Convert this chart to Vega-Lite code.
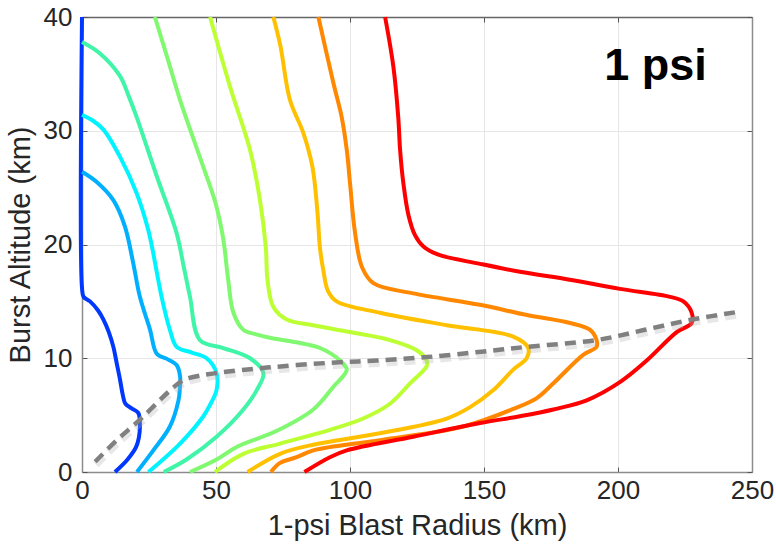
{
  "$schema": "https://vega.github.io/schema/vega-lite/v6.json",
  "width": 670,
  "height": 455,
  "autosize": {"type": "none"},
  "padding": {"left": 82, "top": 17, "right": 24, "bottom": 78},
  "background": "white",
  "config": {
    "font": "Liberation Sans",
    "view": {"stroke": null},
    "axis": {
      "labelFont": "Liberation Sans",
      "titleFont": "Liberation Sans",
      "labelColor": "#262626",
      "titleColor": "#262626",
      "labelFontSize": 26,
      "titleFontSize": 29,
      "titleFontWeight": "normal",
      "labelFlush": false,
      "domainColor": "#8c8c8c",
      "domainWidth": 1.5,
      "tickColor": "#555555",
      "tickSize": -5,
      "gridColor": "#e6e6e6",
      "gridWidth": 1
    }
  },
  "datasets": {
    "curves": [
      {"s": "c1", "i": 0, "x": 0, "y": 40},
      {"s": "c1", "i": 1, "x": 0, "y": 16.2},
      {"s": "c1", "i": 2, "x": 0.6, "y": 15.4},
      {"s": "c1", "i": 3, "x": 3, "y": 15.0},
      {"s": "c1", "i": 4, "x": 6, "y": 14.2},
      {"s": "c1", "i": 5, "x": 8, "y": 13.4},
      {"s": "c1", "i": 6, "x": 10, "y": 12.3},
      {"s": "c1", "i": 7, "x": 11.7, "y": 11.0},
      {"s": "c1", "i": 8, "x": 13, "y": 9.5},
      {"s": "c1", "i": 9, "x": 14.2, "y": 8.1},
      {"s": "c1", "i": 10, "x": 15.2, "y": 6.8},
      {"s": "c1", "i": 11, "x": 16.2, "y": 6.0},
      {"s": "c1", "i": 12, "x": 18.5, "y": 5.6},
      {"s": "c1", "i": 13, "x": 21.0, "y": 5.2},
      {"s": "c1", "i": 14, "x": 21.6, "y": 4.0},
      {"s": "c1", "i": 15, "x": 21.2, "y": 3.0},
      {"s": "c1", "i": 16, "x": 20.2, "y": 2.2},
      {"s": "c1", "i": 17, "x": 17, "y": 1.1},
      {"s": "c1", "i": 18, "x": 12.3, "y": 0},

      {"s": "c2", "i": 0, "x": 0, "y": 26.4},
      {"s": "c2", "i": 1, "x": 5.5, "y": 25.5},
      {"s": "c2", "i": 2, "x": 11.7, "y": 23.9},
      {"s": "c2", "i": 3, "x": 16, "y": 21.6},
      {"s": "c2", "i": 4, "x": 19, "y": 18.5},
      {"s": "c2", "i": 5, "x": 21.6, "y": 15.4},
      {"s": "c2", "i": 6, "x": 25.4, "y": 12.5},
      {"s": "c2", "i": 7, "x": 27.9, "y": 10.4},
      {"s": "c2", "i": 8, "x": 32, "y": 9.9},
      {"s": "c2", "i": 9, "x": 35.3, "y": 9.4},
      {"s": "c2", "i": 10, "x": 36.6, "y": 8.4},
      {"s": "c2", "i": 11, "x": 36.5, "y": 7.3},
      {"s": "c2", "i": 12, "x": 36, "y": 6.3},
      {"s": "c2", "i": 13, "x": 32.8, "y": 4.0},
      {"s": "c2", "i": 14, "x": 26.6, "y": 1.9},
      {"s": "c2", "i": 15, "x": 20.5, "y": 0},

      {"s": "c3", "i": 0, "x": 0, "y": 31.4},
      {"s": "c3", "i": 1, "x": 4, "y": 30.9},
      {"s": "c3", "i": 2, "x": 8, "y": 30.1},
      {"s": "c3", "i": 3, "x": 14.2, "y": 27.7},
      {"s": "c3", "i": 4, "x": 20.4, "y": 24.5},
      {"s": "c3", "i": 5, "x": 24.7, "y": 21.3},
      {"s": "c3", "i": 6, "x": 26.2, "y": 19.7},
      {"s": "c3", "i": 7, "x": 29.7, "y": 15.4},
      {"s": "c3", "i": 8, "x": 32.8, "y": 12.5},
      {"s": "c3", "i": 9, "x": 35.3, "y": 11.0},
      {"s": "c3", "i": 10, "x": 41, "y": 10.5},
      {"s": "c3", "i": 11, "x": 46.5, "y": 10.0},
      {"s": "c3", "i": 12, "x": 50.2, "y": 8.7},
      {"s": "c3", "i": 13, "x": 50.2, "y": 7.2},
      {"s": "c3", "i": 14, "x": 48, "y": 6.0},
      {"s": "c3", "i": 15, "x": 45.3, "y": 4.9},
      {"s": "c3", "i": 16, "x": 36.6, "y": 2.5},
      {"s": "c3", "i": 17, "x": 24.8, "y": 0},

      {"s": "c4", "i": 0, "x": 0, "y": 37.8},
      {"s": "c4", "i": 1, "x": 6.7, "y": 36.8},
      {"s": "c4", "i": 2, "x": 14.2, "y": 34.8},
      {"s": "c4", "i": 3, "x": 17.5, "y": 33.0},
      {"s": "c4", "i": 4, "x": 20.4, "y": 31.2},
      {"s": "c4", "i": 5, "x": 27.9, "y": 26.0},
      {"s": "c4", "i": 6, "x": 35.3, "y": 21.0},
      {"s": "c4", "i": 7, "x": 38, "y": 18.0},
      {"s": "c4", "i": 8, "x": 40.3, "y": 15.4},
      {"s": "c4", "i": 9, "x": 44, "y": 11.6},
      {"s": "c4", "i": 10, "x": 52.7, "y": 10.9},
      {"s": "c4", "i": 11, "x": 62.7, "y": 10.0},
      {"s": "c4", "i": 12, "x": 67.7, "y": 8.7},
      {"s": "c4", "i": 13, "x": 65.2, "y": 7.2},
      {"s": "c4", "i": 14, "x": 60.2, "y": 5.5},
      {"s": "c4", "i": 15, "x": 50.2, "y": 3.1},
      {"s": "c4", "i": 16, "x": 39, "y": 1.1},
      {"s": "c4", "i": 17, "x": 30.5, "y": 0},

      {"s": "c5", "i": 0, "x": 27.2, "y": 40},
      {"s": "c5", "i": 1, "x": 32, "y": 36.3},
      {"s": "c5", "i": 2, "x": 36.6, "y": 32.7},
      {"s": "c5", "i": 3, "x": 45.3, "y": 26.8},
      {"s": "c5", "i": 4, "x": 50, "y": 23.5},
      {"s": "c5", "i": 5, "x": 52.7, "y": 20.5},
      {"s": "c5", "i": 6, "x": 54.5, "y": 17.0},
      {"s": "c5", "i": 7, "x": 56.5, "y": 14.0},
      {"s": "c5", "i": 8, "x": 60.2, "y": 12.5},
      {"s": "c5", "i": 9, "x": 65, "y": 12.1},
      {"s": "c5", "i": 10, "x": 70.1, "y": 11.8},
      {"s": "c5", "i": 11, "x": 80, "y": 11.4},
      {"s": "c5", "i": 12, "x": 88.8, "y": 10.9},
      {"s": "c5", "i": 13, "x": 96.3, "y": 9.8},
      {"s": "c5", "i": 14, "x": 98.8, "y": 9.0},
      {"s": "c5", "i": 15, "x": 93.8, "y": 7.5},
      {"s": "c5", "i": 16, "x": 86.3, "y": 5.5},
      {"s": "c5", "i": 17, "x": 72.5, "y": 3.6},
      {"s": "c5", "i": 18, "x": 57.7, "y": 2.2},
      {"s": "c5", "i": 19, "x": 50.2, "y": 1.1},
      {"s": "c5", "i": 20, "x": 40.3, "y": 0},

      {"s": "c6", "i": 0, "x": 47.8, "y": 40},
      {"s": "c6", "i": 1, "x": 55.2, "y": 33.9},
      {"s": "c6", "i": 2, "x": 62.7, "y": 28.3},
      {"s": "c6", "i": 3, "x": 66.4, "y": 23.9},
      {"s": "c6", "i": 4, "x": 68.6, "y": 19.7},
      {"s": "c6", "i": 5, "x": 69.2, "y": 16.9},
      {"s": "c6", "i": 6, "x": 71.4, "y": 14.5},
      {"s": "c6", "i": 7, "x": 76.4, "y": 13.4},
      {"s": "c6", "i": 8, "x": 86.3, "y": 12.9},
      {"s": "c6", "i": 9, "x": 100, "y": 12.3},
      {"s": "c6", "i": 10, "x": 114.9, "y": 11.6},
      {"s": "c6", "i": 11, "x": 124.9, "y": 10.7},
      {"s": "c6", "i": 12, "x": 128.6, "y": 9.8},
      {"s": "c6", "i": 13, "x": 128.6, "y": 9.3},
      {"s": "c6", "i": 14, "x": 122.4, "y": 7.8},
      {"s": "c6", "i": 15, "x": 114.9, "y": 6.0},
      {"s": "c6", "i": 16, "x": 104.9, "y": 4.7},
      {"s": "c6", "i": 17, "x": 92.5, "y": 3.7},
      {"s": "c6", "i": 18, "x": 73.9, "y": 2.5},
      {"s": "c6", "i": 19, "x": 60.2, "y": 1.6},
      {"s": "c6", "i": 20, "x": 49.6, "y": 0},

      {"s": "c7", "i": 0, "x": 71.4, "y": 40},
      {"s": "c7", "i": 1, "x": 74, "y": 37.5},
      {"s": "c7", "i": 2, "x": 77.6, "y": 32.7},
      {"s": "c7", "i": 3, "x": 82.6, "y": 29.8},
      {"s": "c7", "i": 4, "x": 86.0, "y": 26.8},
      {"s": "c7", "i": 5, "x": 87.8, "y": 23.0},
      {"s": "c7", "i": 6, "x": 88.8, "y": 19.7},
      {"s": "c7", "i": 7, "x": 90, "y": 17.8},
      {"s": "c7", "i": 8, "x": 91.8, "y": 15.9},
      {"s": "c7", "i": 9, "x": 95, "y": 15.0},
      {"s": "c7", "i": 10, "x": 111.2, "y": 14.0},
      {"s": "c7", "i": 11, "x": 136.1, "y": 12.9},
      {"s": "c7", "i": 12, "x": 160.9, "y": 11.9},
      {"s": "c7", "i": 13, "x": 166.5, "y": 10.9},
      {"s": "c7", "i": 14, "x": 165.9, "y": 10.0},
      {"s": "c7", "i": 15, "x": 160.9, "y": 9.0},
      {"s": "c7", "i": 16, "x": 153.5, "y": 7.2},
      {"s": "c7", "i": 17, "x": 144.8, "y": 5.7},
      {"s": "c7", "i": 18, "x": 136.1, "y": 4.7},
      {"s": "c7", "i": 19, "x": 111.2, "y": 3.4},
      {"s": "c7", "i": 20, "x": 86.3, "y": 2.4},
      {"s": "c7", "i": 21, "x": 73.9, "y": 1.6},
      {"s": "c7", "i": 22, "x": 61.8, "y": 0},

      {"s": "c8", "i": 0, "x": 88.2, "y": 40},
      {"s": "c8", "i": 1, "x": 93.8, "y": 34.2},
      {"s": "c8", "i": 2, "x": 96.9, "y": 31.2},
      {"s": "c8", "i": 3, "x": 98.8, "y": 28.3},
      {"s": "c8", "i": 4, "x": 100, "y": 25.4},
      {"s": "c8", "i": 5, "x": 101.9, "y": 21.0},
      {"s": "c8", "i": 6, "x": 104.5, "y": 18.0},
      {"s": "c8", "i": 7, "x": 108.7, "y": 16.6},
      {"s": "c8", "i": 8, "x": 123.6, "y": 15.7},
      {"s": "c8", "i": 9, "x": 148.5, "y": 14.7},
      {"s": "c8", "i": 10, "x": 166, "y": 13.8},
      {"s": "c8", "i": 11, "x": 182.1, "y": 13.1},
      {"s": "c8", "i": 12, "x": 189.6, "y": 12.5},
      {"s": "c8", "i": 13, "x": 192, "y": 11.6},
      {"s": "c8", "i": 14, "x": 192, "y": 11.0},
      {"s": "c8", "i": 15, "x": 187, "y": 10.3},
      {"s": "c8", "i": 16, "x": 175.9, "y": 7.8},
      {"s": "c8", "i": 17, "x": 169.7, "y": 6.5},
      {"s": "c8", "i": 18, "x": 161.5, "y": 5.6},
      {"s": "c8", "i": 19, "x": 142.3, "y": 4.0},
      {"s": "c8", "i": 20, "x": 111.2, "y": 2.8},
      {"s": "c8", "i": 21, "x": 86.3, "y": 1.9},
      {"s": "c8", "i": 22, "x": 80.1, "y": 1.3},
      {"s": "c8", "i": 23, "x": 73.9, "y": 0.8},
      {"s": "c8", "i": 24, "x": 70.5, "y": 0},

      {"s": "c9", "i": 0, "x": 113.1, "y": 40},
      {"s": "c9", "i": 1, "x": 116.2, "y": 35.6},
      {"s": "c9", "i": 2, "x": 118, "y": 31.2},
      {"s": "c9", "i": 3, "x": 118.7, "y": 28.3},
      {"s": "c9", "i": 4, "x": 119.9, "y": 25.4},
      {"s": "c9", "i": 5, "x": 121.8, "y": 22.6},
      {"s": "c9", "i": 6, "x": 124.3, "y": 20.8},
      {"s": "c9", "i": 7, "x": 127.5, "y": 19.8},
      {"s": "c9", "i": 8, "x": 133, "y": 19.1},
      {"s": "c9", "i": 9, "x": 148.5, "y": 18.3},
      {"s": "c9", "i": 10, "x": 163.4, "y": 17.6},
      {"s": "c9", "i": 11, "x": 182, "y": 16.9},
      {"s": "c9", "i": 12, "x": 200.7, "y": 16.1},
      {"s": "c9", "i": 13, "x": 219.4, "y": 15.4},
      {"s": "c9", "i": 14, "x": 224.4, "y": 15.0},
      {"s": "c9", "i": 15, "x": 227.5, "y": 14.0},
      {"s": "c9", "i": 16, "x": 227.5, "y": 13.1},
      {"s": "c9", "i": 17, "x": 221.9, "y": 12.3},
      {"s": "c9", "i": 18, "x": 210.7, "y": 9.8},
      {"s": "c9", "i": 19, "x": 200.7, "y": 7.9},
      {"s": "c9", "i": 20, "x": 188.3, "y": 6.3},
      {"s": "c9", "i": 21, "x": 175.9, "y": 5.5},
      {"s": "c9", "i": 22, "x": 163.4, "y": 4.9},
      {"s": "c9", "i": 23, "x": 148.5, "y": 4.3},
      {"s": "c9", "i": 24, "x": 123.6, "y": 3.1},
      {"s": "c9", "i": 25, "x": 98.8, "y": 1.9},
      {"s": "c9", "i": 26, "x": 92.5, "y": 1.3},
      {"s": "c9", "i": 27, "x": 83, "y": 0}
    ],
    "peak": [
      {"i": 0, "x": 4.9, "y": 0.9},
      {"i": 1, "x": 13, "y": 2.8},
      {"i": 2, "x": 21.6, "y": 4.6},
      {"i": 3, "x": 31.6, "y": 6.9},
      {"i": 4, "x": 36, "y": 7.8},
      {"i": 5, "x": 39, "y": 8.2},
      {"i": 6, "x": 50.2, "y": 8.7},
      {"i": 7, "x": 70, "y": 9.2},
      {"i": 8, "x": 92.5, "y": 9.6},
      {"i": 9, "x": 110, "y": 9.8},
      {"i": 10, "x": 128.6, "y": 10.1},
      {"i": 11, "x": 150, "y": 10.6},
      {"i": 12, "x": 165.9, "y": 11.0},
      {"i": 13, "x": 192, "y": 11.6},
      {"i": 14, "x": 210, "y": 12.5},
      {"i": 15, "x": 227.5, "y": 13.4},
      {"i": 16, "x": 245.5, "y": 14.1}
    ],
    "label": [
      {"x": 214, "y": 34.5, "t": "1 psi"}
    ]
  },
  "resolve": {"axis": {"x": "independent", "y": "independent"}},
  "layer": [
    {
      "data": {"name": "curves"},
      "mark": {"type": "line", "strokeWidth": 4, "clip": false, "strokeJoin": "round", "strokeCap": "butt", "interpolate": "catmull-rom"},
      "encoding": {
        "x": {"field": "x", "type": "quantitative",
              "scale": {"domain": [0, 250], "nice": false},
              "axis": {"values": [0, 50, 100, 150, 200, 250], "title": "1-psi Blast Radius (km)",
                       "labelPadding": 10, "titlePadding": 8, "grid": true, "domain": true}},
        "y": {"field": "y", "type": "quantitative",
              "scale": {"domain": [0, 40], "nice": false},
              "axis": {"values": [0, 10, 20, 30, 40], "title": "Burst Altitude (km)",
                       "labelPadding": 15, "titlePadding": 8, "grid": true, "domain": true}},
        "color": {"field": "s", "type": "nominal", "legend": null,
                  "scale": {"domain": ["c1", "c2", "c3", "c4", "c5", "c6", "c7", "c8", "c9"],
                            "range": ["#0038ff", "#00b0ff", "#00f4ff", "#40f5a8", "#80f870", "#bcff33", "#ffc000", "#ff8800", "#ff0000"]}},
        "order": {"field": "i", "type": "quantitative"}
      }
    },
    {
      "data": {"name": "peak"},
      "mark": {"type": "line", "stroke": "#b0b0b0", "strokeWidth": 7, "opacity": 0.3, "strokeDash": [11, 7], "yOffset": 3, "xOffset": 1, "clip": false, "interpolate": "catmull-rom"},
      "encoding": {
        "x": {"field": "x", "type": "quantitative", "axis": null},
        "y": {"field": "y", "type": "quantitative", "axis": null},
        "order": {"field": "i", "type": "quantitative"}
      }
    },
    {
      "data": {"name": "peak"},
      "mark": {"type": "line", "stroke": "#808080", "strokeWidth": 4.5, "strokeDash": [11, 7], "clip": false, "interpolate": "catmull-rom"},
      "encoding": {
        "x": {"field": "x", "type": "quantitative", "axis": null},
        "y": {"field": "y", "type": "quantitative", "axis": null},
        "order": {"field": "i", "type": "quantitative"}
      }
    },
    {
      "data": {"name": "label"},
      "mark": {"type": "text", "font": "Liberation Sans", "fontWeight": "bold", "fontSize": 45, "align": "center", "baseline": "alphabetic", "color": "#000000"},
      "encoding": {
        "x": {"field": "x", "type": "quantitative",
              "axis": {"orient": "top", "values": [0, 50, 100, 150, 200, 250], "labels": false, "title": null, "grid": false, "domainColor": "#666666"}},
        "y": {"field": "y", "type": "quantitative",
              "axis": {"orient": "right", "values": [0, 10, 20, 30, 40], "labels": false, "title": null, "grid": false, "domainColor": "#8c8c8c"}},
        "text": {"field": "t"}
      }
    }
  ]
}
